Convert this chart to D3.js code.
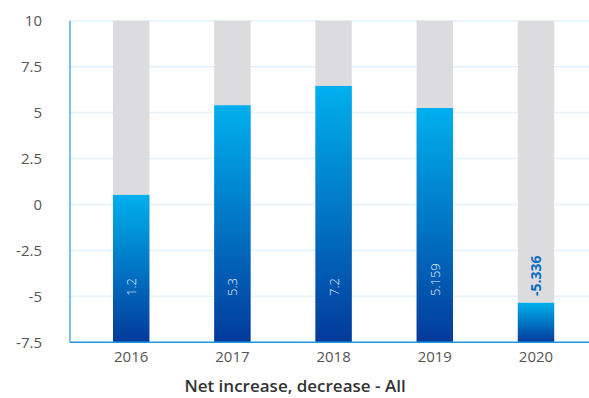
<!DOCTYPE html>
<html><head><meta charset="utf-8">
<script src="https://cdn.jsdelivr.net/npm/d3@7"></script>
<style>body{margin:0;background:#fff}svg{display:block}text{font-family:"Open Sans",Lato,sans-serif}</style>
</head><body><svg id="c" width="589" height="398"></svg>
<script>
const categories = ["2016","2017","2018","2019","2020"];
const barValues = [0.52, 5.4, 6.45, 5.25, -5.35];
const labels = ["1.2","5.3","7.2","5.159","-5.336"];
const yTicks = [-7.5,-5,-2.5,0,2.5,5,7.5,10];
const title = "Net increase, decrease - All";

(function(){
const svg = d3.select("#c");
const pLeft = 70, pRight = 589, pTop = 20.7, pBottom = 342.3;
const y = d3.scaleLinear().domain([-7.5,10]).range([pBottom, pTop]);
const x = d3.scaleBand().domain(categories).range([80.6, 586.6]).paddingInner(0.64).paddingOuter(0.32);

const defs = svg.append("defs");
const g = defs.append("linearGradient").attr("id","grad").attr("x1",0).attr("y1",0).attr("x2",0).attr("y2",1);
g.append("stop").attr("offset","0%").attr("stop-color","#00b0ee");
g.append("stop").attr("offset","100%").attr("stop-color","#033a9b");

// grid
svg.append("g").selectAll("line").data(yTicks).join("line")
  .attr("x1", pLeft).attr("x2", pRight).attr("y1", d=>y(d)).attr("y2", d=>y(d))
  .attr("stroke","#e3f2fb").attr("stroke-width",1.5);

// y axis labels
const ya = svg.append("g").attr("transform",`translate(${pLeft},0)`)
  .call(d3.axisLeft(y).tickValues(yTicks).tickSize(0).tickPadding(28).tickFormat(d=>String(d)));
ya.select(".domain").remove();
ya.selectAll("text").attr("font-size",15).attr("fill","#555");

// background bars
svg.append("g").selectAll("rect").data(categories).join("rect")
  .attr("x", d=>x(d)).attr("width", x.bandwidth())
  .attr("y", y(10)).attr("height", y(-7.5)-y(10)).attr("fill","#dcdcde");

// value bars
svg.append("g").selectAll("rect").data(categories).join("rect")
  .attr("x", d=>x(d)).attr("width", x.bandwidth())
  .attr("y", (d,i)=>y(barValues[i])).attr("height", (d,i)=>y(-7.5)-y(barValues[i]))
  .attr("fill","url(#grad)");

// axes lines
svg.append("line").attr("x1",pLeft).attr("x2",pLeft).attr("y1",pTop).attr("y2",pBottom)
  .attr("stroke","#1e9bd8").attr("stroke-width",1.2);
svg.append("line").attr("x1",pLeft).attr("x2",pRight).attr("y1",pBottom).attr("y2",pBottom)
  .attr("stroke","#1e9bd8").attr("stroke-width",1.5);

// x axis labels
const xa = svg.append("g").attr("transform",`translate(0,${pBottom})`)
  .call(d3.axisBottom(x).tickSize(0).tickPadding(9));
xa.select(".domain").remove();
xa.selectAll("text").attr("font-size",15).attr("fill","#555");

// data labels
svg.append("g").selectAll("text").data(categories).join("text")
  .attr("transform", d=>`translate(${x(d)+x.bandwidth()/2+5},296) rotate(-90)`)
  .attr("text-anchor","start")
  .attr("font-size",(d,i)=>barValues[i]<0?14:13)
  .attr("font-weight",(d,i)=>barValues[i]<0?700:300)
  .attr("fill",(d,i)=>barValues[i]<0?"#0b6cc1":"#e8f2fb")
  .text((d,i)=>labels[i]);

svg.append("text").attr("x",295).attr("y",392).attr("text-anchor","middle")
  .attr("font-size",17).attr("font-weight",600).attr("fill","#333").text(title);
})();
</script></body></html>
